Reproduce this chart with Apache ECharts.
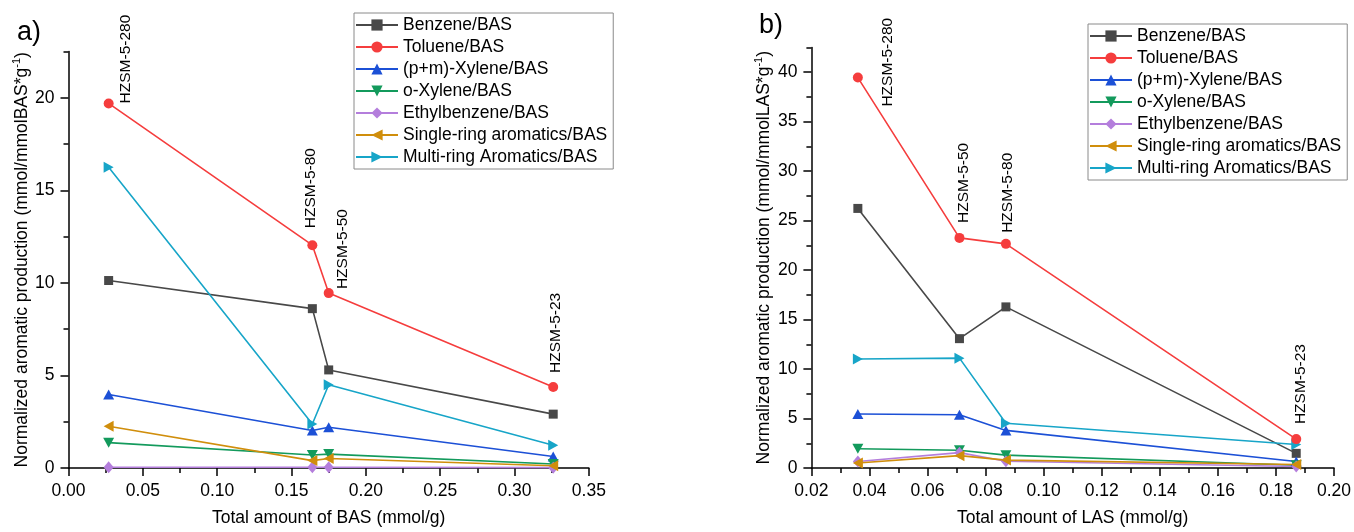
<!DOCTYPE html>
<html>
<head>
<meta charset="utf-8">
<script src="https://cdn.jsdelivr.net/npm/echarts@6/dist/echarts.min.js"></script>
<style>html,body{margin:0;padding:0;background:#fff;}#c{width:1354px;height:532px;}</style>
</head>
<body>
<div id="c"></div>
<script>
// ---------- DATA ----------
const seriesNames = ['Benzene/BAS','Toluene/BAS','(p+m)-Xylene/BAS','o-Xylene/BAS','Ethylbenzene/BAS','Single-ring aromatics/BAS','Multi-ring Aromatics/BAS'];

// panel a) : x = total amount of BAS (mmol/g)
const basX = [0.027, 0.164, 0.175, 0.326];
const basCatalysts = ['HZSM-5-280','HZSM-5-80','HZSM-5-50','HZSM-5-23'];
const basBenzene  = [10.13, 8.61, 5.30, 2.91];
const basToluene  = [19.70, 12.04, 9.45, 4.38];
const basPMXylene = [3.97, 2.03, 2.20, 0.62];
const basOXylene  = [1.37, 0.70, 0.75, 0.22];
const basEthylbz  = [0.04, 0.04, 0.04, 0.02];
const basSingle   = [2.26, 0.40, 0.51, 0.12];
const basMulti    = [16.25, 2.38, 4.50, 1.23];

// panel b) : x = total amount of LAS (mmol/g)
const lasX = [0.036, 0.071, 0.087, 0.187];
const lasCatalysts = ['HZSM-5-280','HZSM-5-50','HZSM-5-80','HZSM-5-23'];
const lasBenzene  = [26.23, 13.07, 16.28, 1.48];
const lasToluene  = [39.45, 23.25, 22.65, 2.92];
const lasPMXylene = [5.45, 5.38, 3.80, 0.65];
const lasOXylene  = [1.95, 1.80, 1.30, 0.28];
const lasEthylbz  = [0.65, 1.55, 0.68, 0.15];
const lasSingle   = [0.50, 1.25, 0.80, 0.35];
const lasMulti    = [11.02, 11.10, 4.52, 2.38];

// axis ticks
const basXTicks = {min: 0, max: 0.35, step: 0.05};
const basYMajor = [0, 5, 10, 15, 20];
const basYMax = 22.5;
const lasXTicks = {min: 0.02, max: 0.20, step: 0.02};
const lasYMajor = [0, 5, 10, 15, 20, 25, 30, 35, 40];
const lasYMax = 42.5;

// ---------- STYLE ----------
const FONT = "'Liberation Sans', Arial, sans-serif";
const FS = 17.5;
const colors = ['#484848','#f53d3d','#1c50d6','#139a5c','#b47edc','#d08e0c','#17a5c8'];
const symbols = ['rect','circle','triangle','triangle','diamond','triangle','triangle'];
const symRot  = [0, 0, 0, 180, 0, 90, -90];
const symSize = [9, 10, [11,10], [11,10], [10,12], [11,10], [11,10]];
// label pixel offsets relative to the Toluene points (screen dx, dy)
const basLabelOff = [[17,0],[-2,-17],[14,-4],[3,-14]];
const lasLabelOff = [[30,29],[4,-15],[2,-11],[4,-15]];

const basSeriesY = [basBenzene, basToluene, basPMXylene, basOXylene, basEthylbz, basSingle, basMulti];
const lasSeriesY = [lasBenzene, lasToluene, lasPMXylene, lasOXylene, lasEthylbz, lasSingle, lasMulti];

function buildSeries(xs, ysList, cats, offs, xi, yi) {
  return ysList.map((ys, s) => ({
    name: seriesNames[s],
    type: 'line',
    xAxisIndex: xi,
    yAxisIndex: yi,
    symbol: symbols[s],
    symbolRotate: symRot[s],
    symbolSize: symSize[s],
    lineStyle: {color: colors[s], width: 1.6},
    itemStyle: {color: colors[s]},
    emphasis: {disabled: true},
    animation: false,
    z: 2 + (s === 1 ? 1 : 0),
    data: xs.map((x, i) => {
      const d = {value: [x, ys[i]]};
      if (s === 1) {
        // screen offset -> rotated frame offset
        d.label = {
          show: true, formatter: cats[i], rotate: 90, position: 'inside',
          align: 'left', verticalAlign: 'middle',
          offset: [-offs[i][1], offs[i][0]],
          fontSize: 15.5, fontFamily: FONT, color: '#000'
        };
      }
      return d;
    })
  }));
}

function xAxis(grid, t, name) {
  return {
    gridIndex: grid, type: 'value', min: t.min, max: t.max, interval: t.step,
    position: 'bottom',
    axisLine: {onZero: false, lineStyle: {color: '#000', width: 1.5}},
    axisTick: {length: 8, lineStyle: {color: '#000', width: 1.5}},
    minorTick: {show: true, splitNumber: 2, length: 5, lineStyle: {color: '#000', width: 1.5}},
    splitLine: {show: false},
    axisLabel: {formatter: v => v.toFixed(2), fontSize: FS, fontFamily: FONT, color: '#000', margin: 14},
    name: name, nameLocation: 'middle', nameGap: 41,
    nameTextStyle: {fontSize: FS, fontFamily: FONT, color: '#000'}
  };
}
function yAxes(grid, major, max, unit, gap) {
  return [{
    gridIndex: grid, type: 'value', min: 0, max: max, interval: 5, position: 'left', offset: 0,
    axisLine: {onZero: false, lineStyle: {color: '#000', width: 1.5}},
    axisTick: {length: 8, customValues: major, lineStyle: {color: '#000', width: 1.5}},
    splitLine: {show: false},
    axisLabel: {customValues: major, fontSize: FS, fontFamily: FONT, color: '#000', margin: 14},
    name: '{n|Normalized aromatic production (mmol/mmol' + unit + '*g}{s|-1}{n|)}',
    nameLocation: 'middle', nameRotate: 90, nameGap: gap,
    nameTextStyle: {
      fontFamily: FONT, color: '#000',
      rich: {
        n: {fontSize: FS, fontFamily: FONT, color: '#000', lineHeight: 20, verticalAlign: 'bottom'},
        s: {fontSize: 11, fontFamily: FONT, color: '#000', verticalAlign: 'top', lineHeight: 20}
      }
    }
  }, {
    gridIndex: grid, type: 'value', min: 0, max: max, interval: 2.5, position: 'left', offset: 0,
    axisLine: {show: false, onZero: false},
    axisTick: {length: 5, lineStyle: {color: '#000', width: 1.5}},
    axisLabel: {show: false},
    splitLine: {show: false}
  }];
}

function legend(left, top) {
  return {
    orient: 'vertical', left: left, top: top,
    data: seriesNames, selectedMode: false,
    borderColor: '#8a8a8a', borderWidth: 1, padding: [2, 6, 2, 1],
    itemGap: 2, itemWidth: 42, itemHeight: 14,
    textStyle: {fontSize: FS, fontFamily: FONT, color: '#000', lineHeight: 20}
  };
}

const chart = echarts.init(document.getElementById('c'), null, {renderer: 'canvas'});
chart.setOption({
  animation: false,
  backgroundColor: '#fff',
  textStyle: {fontFamily: FONT},
  title: [
    {text: 'a)', left: 12, top: 14, textStyle: {fontSize: 27, fontWeight: 'normal', fontFamily: FONT, color: '#000'}},
    {text: 'b)', left: 754, top: 7, textStyle: {fontSize: 27, fontWeight: 'normal', fontFamily: FONT, color: '#000'}}
  ],
  grid: [
    {left: 68.5, top: 51.6, width: 520.4, height: 420.7},
    {left: 811.4, top: 47.4, width: 525.1, height: 424.6}
  ],
  legend: [legend(354, 13), legend(1088, 24)],
  xAxis: [
    xAxis(0, basXTicks, 'Total amount of BAS (mmol/g)'),
    xAxis(1, lasXTicks, 'Total amount of LAS (mmol/g)')
  ],
  yAxis: [].concat(yAxes(0, basYMajor, basYMax, 'BAS', 37), yAxes(1, lasYMajor, lasYMax, 'LAS', 38)),
  series: [].concat(
    buildSeries(basX, basSeriesY, basCatalysts, basLabelOff, 0, 0),
    buildSeries(lasX, lasSeriesY, lasCatalysts, lasLabelOff, 1, 2)
  )
});
</script>
</body>
</html>
